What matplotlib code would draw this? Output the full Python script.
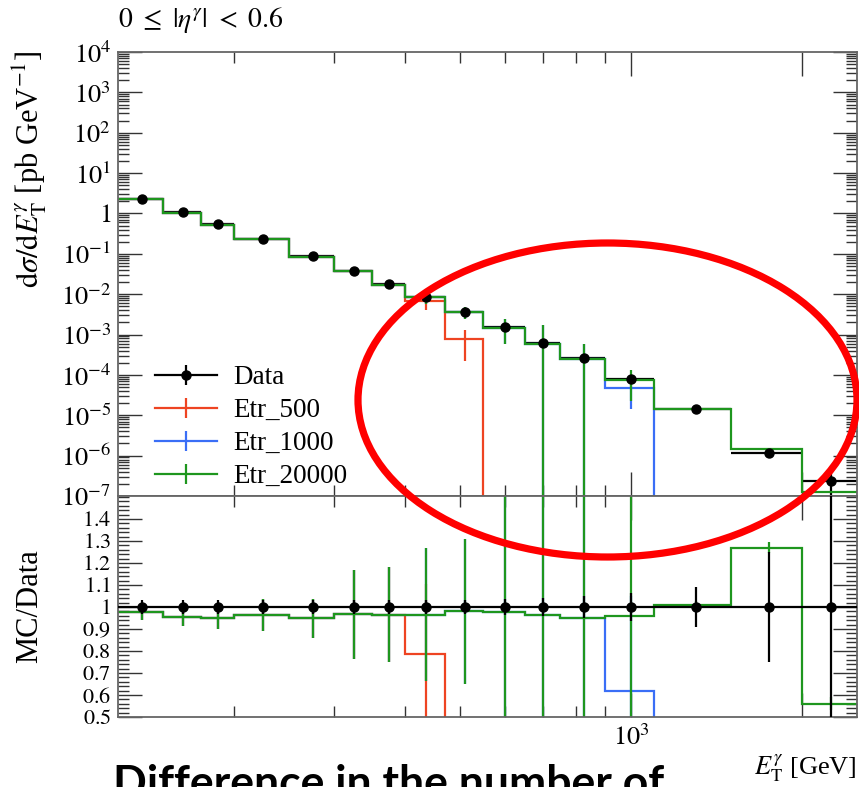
import numpy as np
import matplotlib.pyplot as plt
from matplotlib.lines import Line2D
from matplotlib.patches import Ellipse
from matplotlib.ticker import FixedLocator, FuncFormatter, LogLocator, MultipleLocator, NullFormatter

plt.rcParams['font.family'] = 'serif'
plt.rcParams['font.serif'] = ['Liberation Serif', 'DejaVu Serif']
plt.rcParams['mathtext.fontset'] = 'stix'

# bin edges in E_T (GeV)
edges = np.array([125, 150, 175, 200, 250, 300, 350, 400, 470, 550, 650,
                  750, 900, 1100, 1500, 2000, 2500])

# measured cross section (pb/GeV) and relative uncertainty
data = np.array([2.31, 1.08, 0.547, 0.237, 0.0883, 0.0383, 0.0179, 8.65e-3,
                 3.7e-3, 1.52e-3, 6.2e-4, 2.55e-4, 7.9e-5, 1.43e-5, 1.14e-6, 2.3e-7])
data_relerr = np.array([0.03, 0.03, 0.03, 0.03, 0.03, 0.03, 0.03, 0.03,
                        0.03, 0.035, 0.04, 0.05, 0.065, 0.09, 0.25, 0.95])

# MC/Data (0 = empty bin)
ratio_20000 = np.array([0.976, 0.955, 0.948, 0.964, 0.948, 0.968, 0.966, 0.966,
                        0.981, 0.976, 0.966, 0.951, 0.961, 1.008, 1.27, 0.56])
err_20000 = np.array([0.033, 0.042, 0.05, 0.072, 0.088, 0.202, 0.216, 0.302,
                      0.33, 0.59, 1.77, 1.32, 0.67, 0.02, 0.025, 0.03])
ratio_1000 = np.array([0.976, 0.955, 0.948, 0.964, 0.948, 0.968, 0.966, 0.966,
                       0.981, 0.976, 0.966, 0.951, 0.617, 0, 0, 0])
err_1000 = np.array([0.033, 0.042, 0.05, 0.072, 0.088, 0.202, 0.216, 0.302,
                     0.33, 0.59, 1.77, 1.32, 0.435, 0, 0, 0])
ratio_500 = np.array([0.976, 0.955, 0.948, 0.964, 0.948, 0.968, 0.966, 0.786,
                      0.208, 0, 0, 0, 0, 0, 0, 0])
err_500 = np.array([0.033, 0.042, 0.05, 0.072, 0.088, 0.202, 0.216, 0.32,
                    0.149, 0, 0, 0, 0, 0, 0, 0])

labels = ['Etr_500', 'Etr_1000', 'Etr_20000']
colors = ['#EE4422', '#3A6EF6', '#1E961E']
ratios = [ratio_500, ratio_1000, ratio_20000]
errs = [err_500, err_1000, err_20000]

centers = 0.5 * (edges[:-1] + edges[1:])
halfw = 0.5 * (edges[1:] - edges[:-1])
lw = 1.6
tiny = 1e-30

fig = plt.figure(figsize=(8.59, 7.87), dpi=100)
ax = fig.add_axes([118/859, 1-496/787, 739/859, 444/787])
rax = fig.add_axes([118/859, 1-717/787, 739/859, 221/787])

# ---- main panel
ax.errorbar(centers, data, yerr=data*data_relerr, xerr=halfw, fmt='none',
            ecolor='k', elinewidth=lw, zorder=1.5)
for r, e, c in zip(ratios, errs, colors):
    mc = data * r
    ax.stairs(np.where(mc > 0, mc, tiny), edges, baseline=None, color=c, lw=lw, zorder=2)
    m = r > 0
    lo = np.clip(mc[m] - (data*e)[m], tiny, None)
    ax.vlines(centers[m], lo, mc[m] + (data*e)[m], color=c, lw=lw, zorder=2)
ax.plot(centers, data, 'o', color='k', ms=6.5, zorder=5)

ax.set_xscale('log')
ax.set_yscale('log')
ax.set_xlim(edges[0], edges[-1])
ax.set_ylim(1e-7, 1e4)
ax.yaxis.set_major_locator(LogLocator(base=10, numticks=20))
ax.yaxis.set_minor_locator(LogLocator(base=10, subs=np.arange(2, 10), numticks=20))
ax.yaxis.set_major_formatter(FuncFormatter(
    lambda v, p: '$1$' if abs(v-1) < 1e-9 else '$10^{%d}$' % round(np.log10(v))))
ax.yaxis.set_minor_formatter(NullFormatter())

# ---- ratio panel
for r, e, c in zip(ratios, errs, colors):
    rax.stairs(r, edges, baseline=None, color=c, lw=lw, zorder=2)
    m = r > 0
    rax.vlines(centers[m], r[m] - e[m], r[m] + e[m], color=c, lw=lw, zorder=2)
rax.errorbar(centers, np.ones_like(centers), yerr=data_relerr, xerr=halfw, fmt='o',
             color='k', ms=6.5, elinewidth=lw, zorder=5)
rax.set_xscale('log')
rax.set_xlim(edges[0], edges[-1])
rax.set_ylim(0.5, 1.505)
rax.yaxis.set_major_locator(FixedLocator(np.arange(0.5, 1.45, 0.1)))
rax.yaxis.set_minor_locator(MultipleLocator(0.02))
rax.yaxis.set_major_formatter(FuncFormatter(
    lambda v, p: '$1$' if abs(v-1) < 1e-6 else '$%.1f$' % v))

for a in (ax, rax):
    a.xaxis.set_major_locator(FixedLocator([1000, 2000]))
    a.xaxis.set_minor_locator(FixedLocator([200, 300, 400, 500, 600, 700, 800, 900]))
    a.xaxis.set_minor_formatter(NullFormatter())
    a.tick_params(which='both', direction='in', top=True, right=True, labelsize=19,
                  color='#333333', width=1, pad=5)
    a.tick_params(which='major', length=17)
    a.tick_params(which='minor', length=8)
    for s in a.spines.values():
        s.set_color('#666666')
        s.set_linewidth(1.3)
ax.tick_params(labelbottom=False)
rax.tick_params(axis='y', labelsize=16)
rax.xaxis.set_major_formatter(FuncFormatter(lambda v, p: '$10^{3}$' if v == 1000 else ''))

# legend
handles = [(Line2D([], [], color='k', lw=lw, marker='|', ms=15, mew=lw),
            Line2D([], [], color='k', marker='o', ms=6.5, ls='none'))]
for c in colors:
    handles.append(Line2D([], [], color=c, lw=lw, marker='|', ms=15, mew=lw))
ax.legend(handles, ['Data'] + labels, loc='center left', bbox_to_anchor=(0.05, 0.155),
          frameon=False, fontsize=19.5, handlelength=2.3, handletextpad=0.6,
          labelspacing=0.3, borderpad=0, borderaxespad=0)

# texts
fig.text(118/859, 1-20/787, r'$0\ \leq\ |\eta^{\gamma}|\ <\ 0.6$', ha='left', va='center', fontsize=20)
fig.text(30/859, 1-50/787, r'$\mathrm{d}\sigma/\mathrm{d}E_{\mathrm{T}}^{\gamma}$ [pb GeV$^{-1}$]',
         rotation=90, ha='center', va='top', fontsize=22)
fig.text(30/859, 1-606/787, 'MC/Data', rotation=90, ha='center', va='center', fontsize=22)
fig.text(857/859, 1-768/787, r'$E_{\mathrm{T}}^{\gamma}$ [GeV]', ha='right', va='center', fontsize=19)
fig.text(113/859, 1-797/787, 'Difference in the number of', family='Lato', weight='bold',
         fontsize=32, ha='left', va='baseline')

# highlight ellipse
fig.add_artist(Ellipse((607.5/859, 1-400/787), 499/859, 314/787, transform=fig.transFigure,
                       fill=False, ec='#FF0000', lw=5.2, zorder=10))

fig.savefig('out.png', dpi=100)
